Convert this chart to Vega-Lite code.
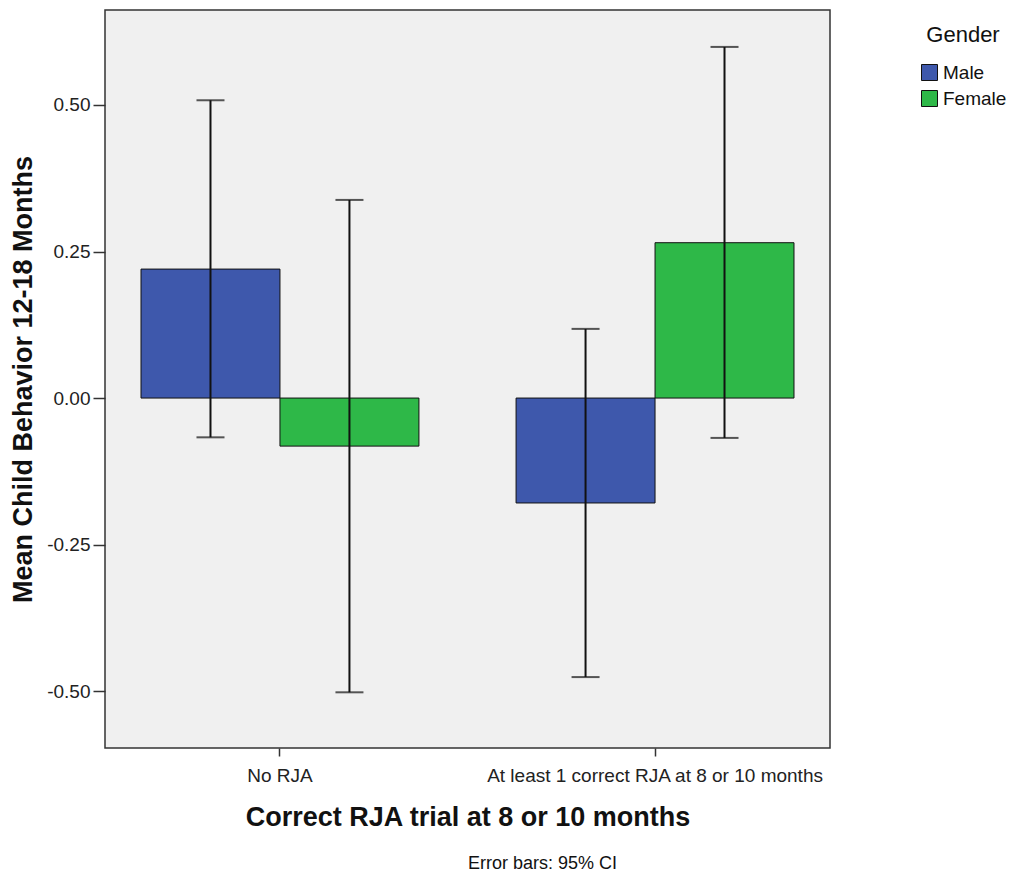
{
  "$schema": "https://vega.github.io/schema/vega-lite/v6.json",
  "autosize": {"type": "none"},
  "padding": {"left": 105, "top": 10, "right": 181, "bottom": 132},
  "width": 725,
  "height": 738,
  "background": "white",
  "config": {
    "font": "Liberation Sans",
    "view": {"fill": "#F0F0F0", "stroke": "#333333", "strokeWidth": 1.5},
    "axis": {"domain": false, "grid": false, "tickColor": "#333333", "tickWidth": 1.5,
             "labelFont": "Liberation Sans", "labelFontSize": 19, "labelColor": "#222222", "labelLimit": 0,
             "titleFont": "Liberation Sans", "titleFontSize": 27, "titleFontWeight": "bold", "titleColor": "#111111"}
  },
  "title": {
    "text": "Error bars: 95% CI",
    "orient": "bottom",
    "anchor": "middle",
    "dx": 75,
    "offset": 25,
    "fontSize": 18,
    "fontWeight": "normal",
    "font": "Liberation Sans",
    "color": "#111111"
  },
  "data": {
    "values": [
      {"rja": "No RJA", "gender": "Male", "mean": 0.22, "lo": -0.067, "hi": 0.508},
      {"rja": "No RJA", "gender": "Female", "mean": -0.082, "lo": -0.502, "hi": 0.338},
      {"rja": "At least 1 correct RJA at 8 or 10 months", "gender": "Male", "mean": -0.179, "lo": -0.476, "hi": 0.118},
      {"rja": "At least 1 correct RJA at 8 or 10 months", "gender": "Female", "mean": 0.265, "lo": -0.068, "hi": 0.599}
    ]
  },
  "encoding": {
    "x": {
      "field": "rja", "type": "nominal",
      "sort": ["No RJA", "At least 1 correct RJA at 8 or 10 months"],
      "scale": {"paddingInner": 0.259, "paddingOuter": 0.096},
      "axis": {"title": "Correct RJA trial at 8 or 10 months", "labelAngle": 0, "tickSize": 8, "labelPadding": 10, "titlePadding": 19}
    },
    "xOffset": {"field": "gender", "type": "nominal", "sort": ["Male", "Female"], "scale": {"paddingInner": 0, "paddingOuter": 0}}
  },
  "layer": [
    {
      "mark": {"type": "bar", "stroke": "#111111", "strokeWidth": 1},
      "encoding": {
        "y": {
          "field": "mean", "type": "quantitative",
          "scale": {"domain": [-0.597, 0.662], "nice": false, "zero": false},
          "axis": {"title": "Mean Child Behavior 12-18 Months", "values": [-0.5, -0.25, 0, 0.25, 0.5],
                   "labelExpr": "replace(format(datum.value, '.2f'), '\u2212', '-')",
                   "tickSize": 12, "labelPadding": 3, "titlePadding": 9}
        },
        "color": {
          "field": "gender", "type": "nominal",
          "sort": ["Male", "Female"],
          "scale": {"domain": ["Male", "Female"], "range": ["#3E58AC", "#2EB848"]},
          "legend": {
            "title": "Gender", "orient": "none", "legendX": 815, "legendY": 15,
            "titleFontSize": 22, "titleFontWeight": "normal", "titleFont": "Liberation Sans", "titleColor": "#111111",
            "titlePadding": 16, "titleAnchor": "middle",
            "labelFontSize": 19, "labelFont": "Liberation Sans", "labelColor": "#111111",
            "symbolType": "square", "symbolSize": 256, "symbolStrokeColor": "#111111", "symbolStrokeWidth": 1,
            "rowPadding": 5, "labelOffset": 4
          }
        }
      }
    },
    {
      "mark": {"type": "rule", "color": "#111111", "strokeWidth": 2},
      "encoding": {
        "y": {"field": "lo", "type": "quantitative"},
        "y2": {"field": "hi"}
      }
    },
    {
      "mark": {"type": "tick", "color": "#111111", "thickness": 2, "size": 28, "orient": "horizontal"},
      "encoding": {"y": {"field": "lo", "type": "quantitative"}}
    },
    {
      "mark": {"type": "tick", "color": "#111111", "thickness": 2, "size": 28, "orient": "horizontal"},
      "encoding": {"y": {"field": "hi", "type": "quantitative"}}
    }
  ]
}
